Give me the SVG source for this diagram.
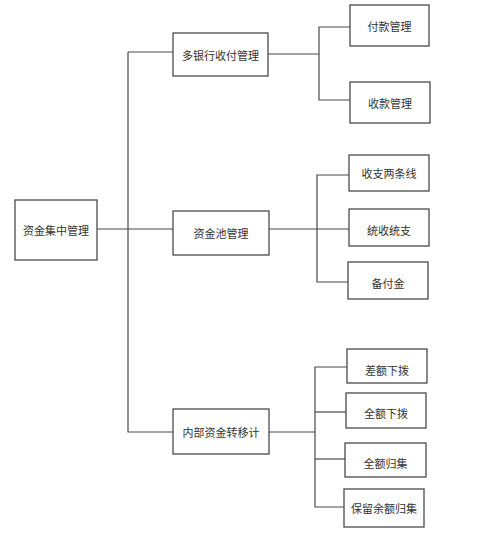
<svg xmlns="http://www.w3.org/2000/svg" width="500" height="538" viewBox="0 0 500 538">
<style>
rect.box{fill:#fff;stroke:#4a4a4a;stroke-width:1.3}
text{font-family:"Noto Sans CJK SC","Noto Sans",sans-serif;font-size:11px;fill:#333;text-anchor:middle;dominant-baseline:central}
#connectors path{fill:none;stroke:#4a4a4a;stroke-width:1.2}
</style>
<rect width="500" height="538" fill="#fff"/>
<g id="connectors">
<path d="M97,229 H173"/>
<path d="M128,52 V432 H173"/>
<path d="M128,52 H173"/>
<path d="M268,54 H319"/>
<path d="M350,27 H319 V100 H350"/>
<path d="M269,229 H349"/>
<path d="M349,175 H317 V282 H348"/>
<path d="M269,432 H315"/>
<path d="M347,367 H315 V507 H344"/>
<path d="M315,412 H346"/>
<path d="M315,459 H345"/>
</g>
<g id="root"><rect class="box" x="15" y="200" width="82" height="60"/><text x="56" y="230">资金集中管理</text></g>
<g id="n1"><rect class="box" x="173" y="33" width="95" height="43"/><text x="220.5" y="54.5">多银行收付管理</text></g>
<g id="n2"><rect class="box" x="173" y="211" width="96" height="44"/><text x="221" y="233">资金池管理</text></g>
<g id="n3"><rect class="box" x="173" y="409" width="96" height="45"/><text x="221" y="431.5">内部资金转移计</text></g>
<g id="n1a"><rect class="box" x="350" y="5" width="79" height="41"/><text x="389.5" y="25.5">付款管理</text></g>
<g id="n1b"><rect class="box" x="350" y="82" width="80" height="41"/><text x="390" y="102.5">收款管理</text></g>
<g id="n2a"><rect class="box" x="349" y="155" width="80" height="36"/><text x="389" y="173">收支两条线</text></g>
<g id="n2b"><rect class="box" x="349" y="209" width="80" height="37"/><text x="389" y="229.5">统收统支</text></g>
<g id="n2c"><rect class="box" x="348" y="262" width="80" height="37"/><text x="388" y="282.5">备付金</text></g>
<g id="n3a"><rect class="box" x="347" y="349" width="80" height="34"/><text x="387" y="370">差额下拨</text></g>
<g id="n3b"><rect class="box" x="346" y="393" width="80" height="35"/><text x="386" y="413">全额下拨</text></g>
<g id="n3c"><rect class="box" x="345" y="443" width="81" height="34"/><text x="385.5" y="463">全额归集</text></g>
<g id="n3d"><rect class="box" x="344" y="489" width="80" height="38"/><text x="384" y="508">保留余额归集</text></g>
</svg>
